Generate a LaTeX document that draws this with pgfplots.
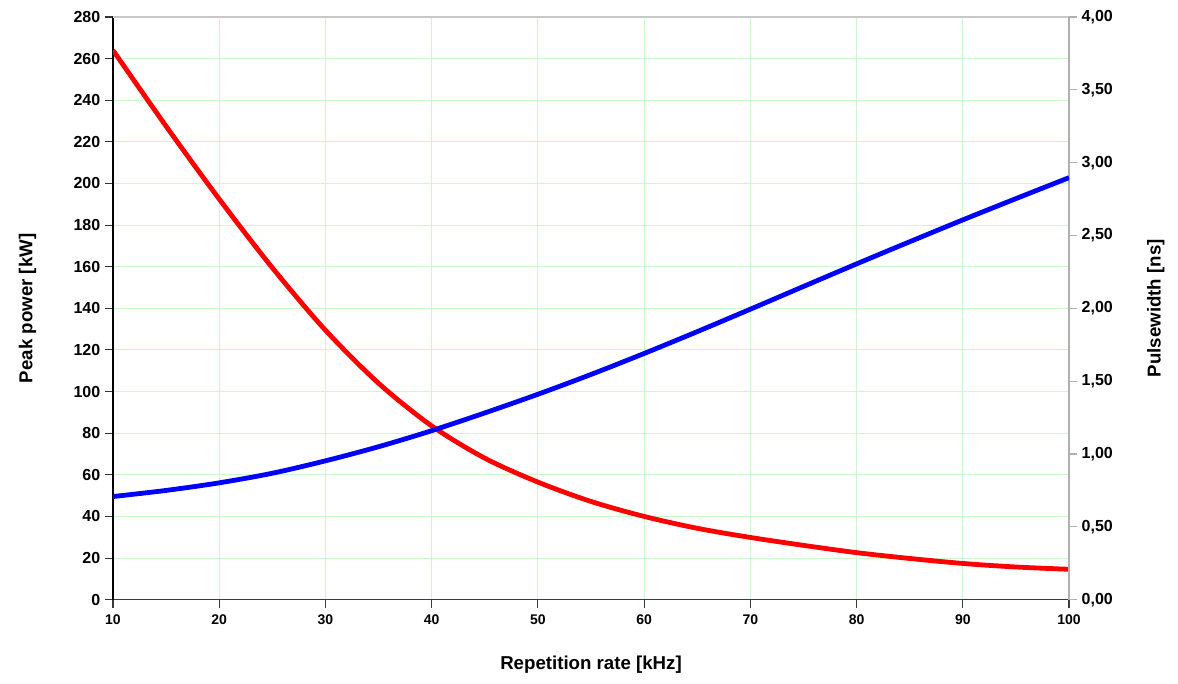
\documentclass[border=0pt]{standalone}
\usepackage{pgfplots}
\pgfplotsset{compat=1.18}
\usepackage{pgfplotstable}
\usepackage{fontspec}
\setmainfont{Liberation Sans}
\definecolor{gridgreen}{RGB}{208,246,208}
\definecolor{rightgrey}{RGB}{176,176,176}
\definecolor{topgrey}{RGB}{200,200,200}
\definecolor{botgrey}{RGB}{60,60,60}

\pgfplotstableread{
x y
10 264
15 227.5
20 192.5
25 159.5
30 129.5
35 104
40 83.5
45 68
50 56.5
55 47.2
60 40
65 34.3
70 29.9
75 26.1
80 22.6
85 19.8
90 17.4
95 15.7
100 14.6
}\peak

\pgfplotstableread{
x y
10 0.708
15 0.750
20 0.802
25 0.868
30 0.953
35 1.050
40 1.160
45 1.282
50 1.410
55 1.546
60 1.690
65 1.840
70 1.994
75 2.150
80 2.305
85 2.457
90 2.607
95 2.753
100 2.897
}\pulse

\begin{document}
\begin{tikzpicture}
\begin{axis}[
  name=main,
  scale only axis,
  width=717pt, height=437pt,
  xmin=10, xmax=100, ymin=0, ymax=280,
  xtick={10,20,...,100},
  ytick={0,20,...,280},
  axis x line*=bottom,
  axis y line*=left,
  x axis line style={botgrey, line width=0.9pt},
  y axis line style={black, line width=0.9pt},
  tick align=outside,
  major tick length=6pt,
  xtick style={botgrey, line width=0.8pt},
  ytick style={black!80, line width=0.8pt},
  grid=major,
  major grid style={gridgreen, line width=0.8pt},
  /pgf/number format/assume math mode=true,
  xticklabel style={font=\bfseries\fontsize{10.5}{12}\selectfont, yshift=-2pt},
  yticklabel style={font=\bfseries\fontsize{12}{14}\selectfont},
  xlabel={Repetition rate [kHz]},
  ylabel={Peak power [kW]},
  xlabel style={font=\bfseries\fontsize{14}{16}\selectfont, at={(axis description cs:0.5,0)}, anchor=center, yshift=-49pt},
  ylabel style={font=\bfseries\fontsize{14}{16}\selectfont, at={(axis description cs:0,0.5)}, anchor=center, rotate=0, yshift=64pt},
]
\addplot[red, line width=3.6pt, smooth] table[x=x,y=y] {\peak};
\end{axis}
\begin{axis}[
  scale only axis,
  width=717pt, height=437pt,
  xmin=10, xmax=100, ymin=0, ymax=4,
  axis x line*=top,
  axis y line*=right,
  xtick=\empty,
  x axis line style={topgrey, line width=0.8pt},
  y axis line style={rightgrey, line width=1.2pt},
  ytick={0,0.5,...,4},
  yticklabels={{0,00},{0,50},{1,00},{1,50},{2,00},{2,50},{3,00},{3,50},{4,00}},
  tick align=outside,
  major tick length=6pt,
  ytick style={rightgrey, line width=0.8pt},
  yticklabel style={font=\bfseries\fontsize{12}{14}\selectfont},
  ylabel={Pulsewidth [ns]},
  ylabel style={font=\bfseries\fontsize{14}{16}\selectfont, at={(axis description cs:1,0.5)}, anchor=center, yshift=-65pt},
]
\addplot[blue, line width=3.6pt, smooth] table[x=x,y=y] {\pulse};
\end{axis}
\path (main.south west) ++(-84.75pt,-63pt) coordinate (bl);
\path (main.north east) ++(81.75pt,12.75pt) coordinate (tr);
\useasboundingbox (bl) rectangle (tr);
\end{tikzpicture}
\end{document}
